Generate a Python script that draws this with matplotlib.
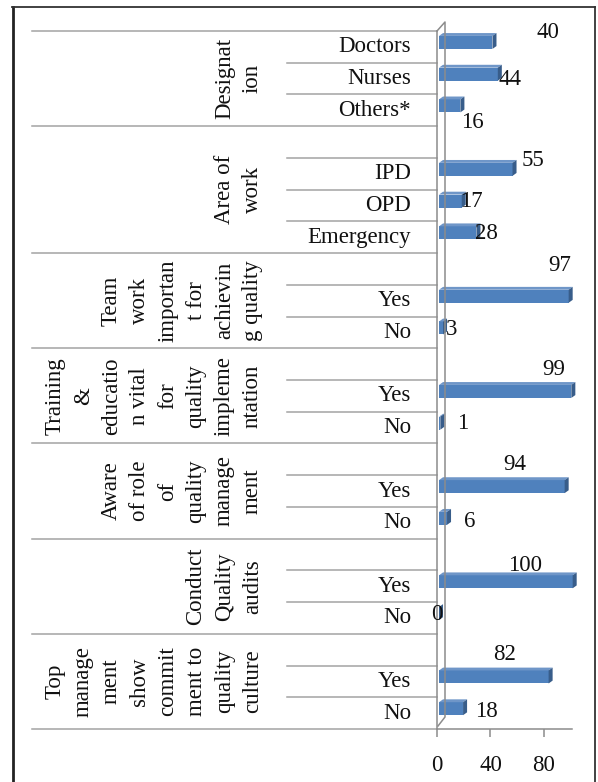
import matplotlib.pyplot as plt
from matplotlib.lines import Line2D
from matplotlib.patches import Polygon
from matplotlib.transforms import blended_transform_factory

plt.rcParams['font.family'] = ['Liberation Serif', 'DejaVu Serif']

# survey groups (top to bottom), their answer categories and percentages
group_labels = [
    "Designat\nion",
    "Area of\nwork",
    "Team\nwork\nimportan\nt for\nachievin\ng quality",
    "Training\n&\neducatio\nn vital\nfor\nquality\nimpleme\nntation",
    "Aware\nof role\nof\nquality\nmanage\nment",
    "Conduct\nQuality\naudits",
    "Top\nmanage\nment\nshow\ncommit\nment to\nquality\nculture",
]
group_items = [
    ["Doctors", "Nurses", "Others*"],
    ["", "IPD", "OPD", "Emergency"],
    ["", "Yes", "No"],
    ["", "Yes", "No"],
    ["", "Yes", "No"],
    ["", "Yes", "No"],
    ["", "Yes", "No"],
]
group_values = [
    [40, 44, 16],
    [None, 55, 17, 28],
    [None, 97, 3],
    [None, 99, 1],
    [None, 94, 6],
    [None, 100, 0],
    [None, 82, 18],
]
x_ticks = [0, 40, 80]

# where each data label sits relative to the bar end (pixels, +y is down)
label_nudge = [
    (57, -14), (14, 1), (14, 12),
    (22, -13), (12, -4), (12, -4),
    (-7, -35), (11, -3),
    (-16, -26), (24, -4),
    (-48, -27), (25, -1),
    (-46, -21), (0, -3),
    (-42, -27), (25, -2),
]

W, H = 598, 782
BLUE = "#4f81bd"
SIDE = "#385d8a"
TOP = "#6f96c8"
GRID = "#a3a3a3"
FS = 16.5

fig = plt.figure(figsize=(W / 100, H / 100), dpi=100)
ax = fig.add_axes([437 / W, 1 - 729 / H, 135 / W, 698 / H])

n_rows = sum(len(g) for g in group_items)
ax.set_xlim(0, 101)
ax.set_ylim(n_rows, 0)

# figure-x / data-y transform for everything left of the plot
lt = blended_transform_factory(fig.transFigure, ax.transData)

bar_h = 0.41
lift = 0.14       # bars sit slightly above row centre
x0 = 1.5          # bars start just behind the floor axis
dx, dy = 3.0, 0.09  # 3-D depth of each bar

row = 0
k = 0
for glabel, items, vals in zip(group_labels, group_items, group_values):
    start = row
    # group separator
    ax.add_line(Line2D([32 / W, 437 / W], [row, row], transform=lt,
                       color=GRID, lw=1.1, clip_on=False))
    for i, (name, v) in enumerate(zip(items, vals)):
        if i > 0:
            ax.add_line(Line2D([287 / W, 437 / W], [row, row], transform=lt,
                               color=GRID, lw=1.1, clip_on=False))
        yc = row + 0.5
        if name:
            ax.text(411 / W, yc, name, transform=lt, ha="right",
                    va="center", fontsize=FS, color="#111111")
        if v is not None:
            yb = yc - lift
            ax.barh(yb, v, height=bar_h, left=x0, color=BLUE,
                    edgecolor="none", zorder=3, clip_on=False)
            end = x0 + v
            top = yb - bar_h / 2
            bot = yb + bar_h / 2
            ax.add_patch(Polygon([(x0, top), (end, top), (end + dx, top - dy),
                                  (x0 + dx, top - dy)], closed=True,
                                 fc=TOP, ec="none", zorder=3, clip_on=False))
            ax.add_patch(Polygon([(end, top), (end + dx, top - dy),
                                  (end + dx, bot - dy), (end, bot)],
                                 closed=True, fc=SIDE, ec="none", zorder=3,
                                 clip_on=False))
            ox, oy = label_nudge[k]
            ax.annotate(str(v), xy=(v, yc), xytext=(ox * 0.72, -oy * 0.72),
                        textcoords="offset points", ha="center", va="center",
                        fontsize=FS, color="#111111", zorder=4,
                        annotation_clip=False)
            k += 1
        row += 1
    ax.text(263 / W, (start + row) / 2, glabel, transform=lt, rotation=90,
            ha="right", va="center", multialignment="center",
            fontsize=FS, linespacing=1.45, color="#111111")

ax.add_line(Line2D([32 / W, 437 / W], [row, row], transform=lt,
                   color=GRID, lw=1.1, clip_on=False))

# floor and wall of the 3-D plot area
for s in ["top", "right"]:
    ax.spines[s].set_visible(False)
for s in ["left", "bottom"]:
    ax.spines[s].set_color("#8c8c8c")
    ax.spines[s].set_linewidth(1.1)
ax.set_yticks([])
ax.set_xticks(x_ticks)
ax.tick_params(axis="x", direction="out", length=6, width=1.1,
               color="#8c8c8c", labelsize=FS, pad=13, labelcolor="#111111")

def px_line(xs, ys, **kw):
    fig.add_artist(Line2D([x / W for x in xs], [1 - y / H for y in ys],
                          color="#8c8c8c", lw=1.1, **kw))

px_line([437, 445, 445, 438], [31, 22, 717, 726])

# outer frame
fig.add_artist(Line2D([13 / W, 13 / W], [0, 1 - 7 / H], color="#222222", lw=2.0))
fig.add_artist(Line2D([12 / W, 595 / W], [1 - 7 / H, 1 - 7 / H], color="#333333", lw=1.3))
fig.add_artist(Line2D([595 / W, 595 / W], [0, 1 - 7 / H], color="#333333", lw=1.3))

fig.savefig("out.png", dpi=100, facecolor="white")
